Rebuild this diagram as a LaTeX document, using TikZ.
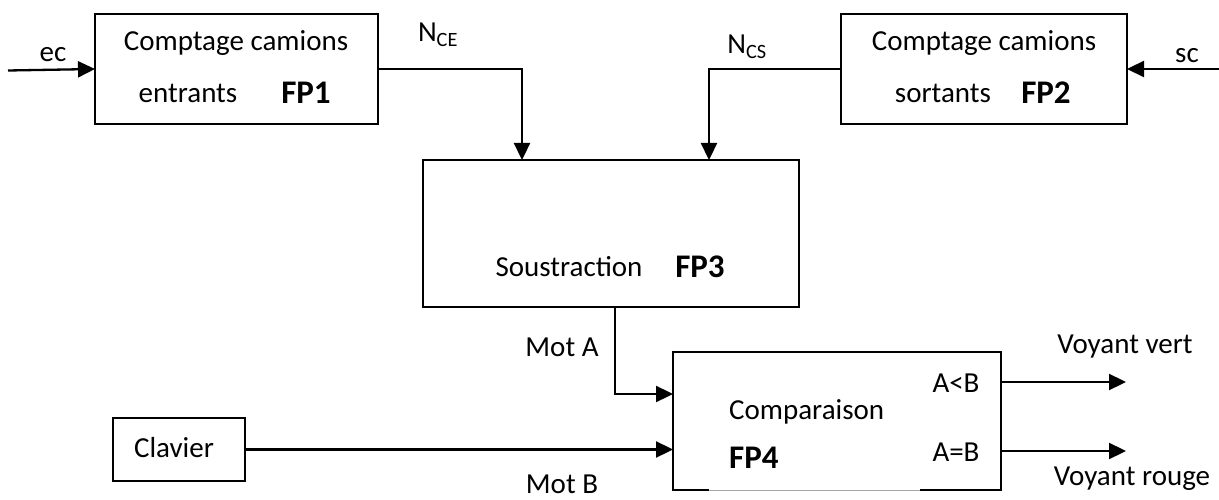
\documentclass[tikz,border=0pt]{standalone}
\usepackage{fontspec}
\setmainfont{Carlito}
\usetikzlibrary{arrows.meta}
\begin{document}
\begin{tikzpicture}[x=1pt,y=-1pt,
  box/.style={draw,line width=1.5pt,minimum width=#1,inner sep=0pt,outer sep=0pt},
  txt/.style={inner sep=0pt,font=\fontsize{29}{34}\selectfont},
  bold/.style={inner sep=0pt,font=\fontsize{33}{38}\selectfont\bfseries},
  arr/.style={line width=2.3pt,-{Triangle[length=17pt,width=16pt]}}]
\useasboundingbox (0,0) rectangle (1219,500);
% boxes
\node[box=283pt,minimum height=110pt] (fp1) at (236.5,69) {};
\node[box=286pt,minimum height=110pt] (fp2) at (984,69) {};
\node[box=376pt,minimum height=147pt] (fp3) at (611,233.5) {};
\node[box=132pt,minimum height=63pt] (clav) at (179,449.5) {};
% FP4 box with gap on the bottom edge
\coordinate (fp4nw) at (673,352);
\coordinate (fp4ne) at (1001,352);
\coordinate (fp4se) at (1001,490);
\coordinate (fp4sw) at (673,490);
\coordinate (fp4ga) at (709,490);
\coordinate (fp4gb) at (920,490);
\node[inner sep=0pt,minimum width=328pt,minimum height=138pt] (fp4) at (837,421) {};
\draw[line width=1.5pt] (fp4ga) -- (fp4sw) -- (fp4nw) -- (fp4ne) -- (fp4se) -- (fp4gb);
\draw[line width=0.6pt,black!35] (fp4ga) -- (fp4gb);
% texts
\node[txt] (t1a) at (236,43) {Comptage camions};
\node[txt] (t1b) at (188,93) {entrants};
\node[bold] (t1c) at (306,93) {FP1};
\node[txt] (t2a) at (984,43) {Comptage camions};
\node[txt] (t2b) at (943,93) {sortants};
\node[bold] (t2c) at (1046,93) {FP2};
\node[txt] (t3a) at (569,267) {Soustraction};
\node[bold] (t3b) at (700,267) {FP3};
\node[txt,anchor=west] (t4a) at (729,412) {Comparaison};
\node[bold,anchor=west] (t4b) at (729,458) {FP4};
\node[txt] (t4c) at (956,383) {A<B};
\node[txt] (t4d) at (956,452) {A=B};
\node[txt] (tclav) at (174,448) {Clavier};
\node[txt] (lec) at (53,55) {ec};
\node[txt] (lsc) at (1187,56) {sc};
\node[txt] (lnce) at (438,35) {N\textsubscript{CE}};
\node[txt] (lncs) at (747,47) {N\textsubscript{CS}};
\node[txt] (lmota) at (562,347) {Mot A};
\node[txt] (lmotb) at (562,484) {Mot B};
\node[txt] (lvv) at (1125,347) {Voyant vert};
\node[txt] (lvr) at (1132,479) {Voyant rouge};
% connector coordinates
\coordinate (ecin) at (8,70.5);
\coordinate (scin) at (1219,69);
\coordinate (in31) at (522,160);
\coordinate (in32) at (709,160);
\coordinate (out3) at (615,307);
\coordinate (in41) at (673,394);
\coordinate (in42) at (673,449.5);
\coordinate (o41) at (1001,382);
\coordinate (o42) at (1001,451);
\coordinate (e41) at (1126,382);
\coordinate (e42) at (1126,451);
% connectors
\draw[arr] (ecin) -- (fp1.west);
\draw[arr] (scin) -- (fp2.east);
\draw[arr] (fp1.east) -| (in31);
\draw[arr] (fp2.west) -| (in32);
\draw[arr] (out3) |- (in41);
\draw[arr] (clav.east) -- (in42);
\draw[arr] (o41) -- (e41);
\draw[arr] (o42) -- (e42);
\end{tikzpicture}
\end{document}
